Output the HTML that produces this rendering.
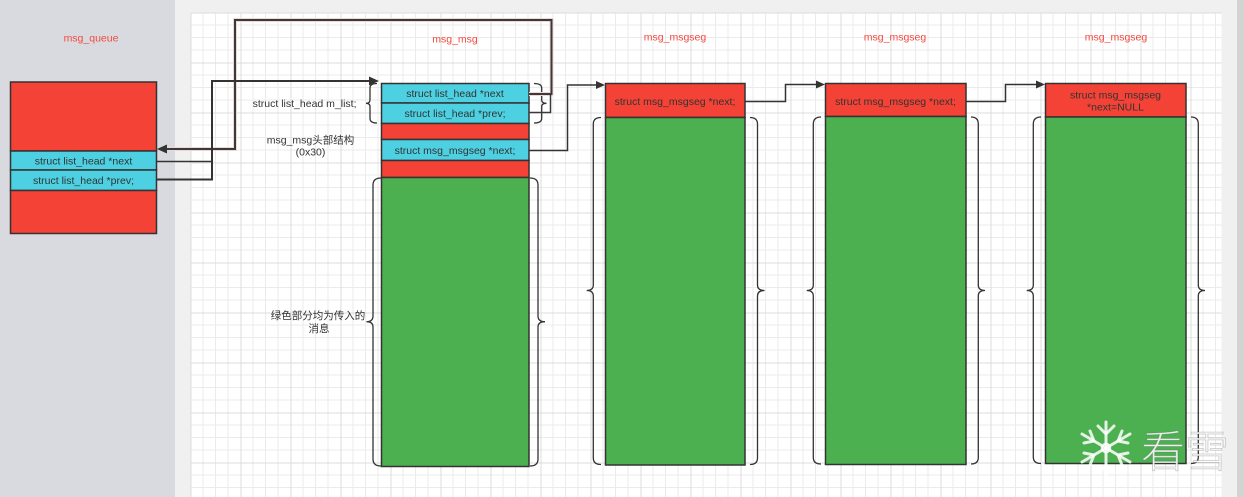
<!DOCTYPE html>
<html><head><meta charset="utf-8"><style>
html,body{margin:0;padding:0;background:#f0f0f0;}
svg{display:block;}
text{font-family:"Liberation Sans","Noto Sans CJK SC",sans-serif;font-size:10.5px;fill:#333;}
.r{fill:#f4493f;}
</style></head><body>
<svg width="1244" height="497" viewBox="0 0 1244 497" xmlns="http://www.w3.org/2000/svg">
<defs>
<pattern id="g" patternUnits="userSpaceOnUse" x="190.5" y="12.5" width="50" height="50">
<rect width="50" height="50" fill="#fff"/>
<path d="M12.5 0V50M25 0V50M37.5 0V50M0 12.5H50M0 25H50M0 37.5H50" stroke="#ebebeb" stroke-width="1"/>
<path d="M0.5 0V50M0 0.5H50" stroke="#dcdcdc" stroke-width="1"/>
</pattern>
</defs>
<rect width="1244" height="497" fill="#f0f0f0"/>
<rect x="0" y="0" width="175" height="497" fill="#d9dadf"/>
<rect x="190.5" y="12.5" width="1031" height="485" fill="url(#g)"/>
<rect x="1237" y="0" width="7" height="497" fill="#d3d3d3"/>

<!-- red labels -->
<text class="r" x="91" y="41.5" text-anchor="middle">msg_queue</text>
<text class="r" x="455" y="42.5" text-anchor="middle">msg_msg</text>
<text class="r" x="675" y="40.5" text-anchor="middle">msg_msgseg</text>
<text class="r" x="895" y="40.5" text-anchor="middle">msg_msgseg</text>
<text class="r" x="1116" y="40.5" text-anchor="middle">msg_msgseg</text>

<g stroke="#333" stroke-width="1.5">
<!-- msg_queue -->
<rect x="10.5" y="82" width="146" height="69" fill="#f44336"/>
<rect x="10.5" y="151" width="146" height="19" fill="#4dd0e1"/>
<rect x="10.5" y="170" width="146" height="20.5" fill="#4dd0e1"/>
<rect x="10.5" y="190.5" width="146" height="43" fill="#f44336"/>
<!-- msg_msg -->
<rect x="381.5" y="83.5" width="147.5" height="19.5" fill="#4dd0e1"/>
<rect x="381.5" y="103" width="147.5" height="20.5" fill="#4dd0e1"/>
<rect x="381.5" y="123.5" width="147.5" height="16" fill="#f44336"/>
<rect x="381.5" y="139.5" width="147.5" height="21" fill="#4dd0e1"/>
<rect x="381.5" y="160.5" width="147.5" height="17" fill="#f44336"/>
<rect x="381.5" y="177.5" width="147.5" height="289" fill="#4caf50"/>
<!-- msgseg boxes -->
<rect x="605.5" y="83.5" width="139.5" height="34" fill="#f44336"/>
<rect x="605.5" y="117.5" width="139.5" height="347.5" fill="#4caf50"/>
<rect x="825.5" y="83.5" width="140.5" height="33" fill="#f44336"/>
<rect x="825.5" y="116.5" width="140.5" height="348" fill="#4caf50"/>
<rect x="1045.5" y="83.5" width="140.5" height="33.5" fill="#f44336"/>
<rect x="1045.5" y="117" width="140.5" height="346.5" fill="#4caf50"/>
</g>

<!-- box texts -->
<text x="83.5" y="164.5" text-anchor="middle">struct list_head *next</text>
<text x="83.5" y="184" text-anchor="middle">struct list_head *prev;</text>
<text x="455" y="97" text-anchor="middle">struct list_head *next</text>
<text x="455" y="117" text-anchor="middle">struct list_head *prev;</text>
<text x="455" y="154" text-anchor="middle">struct msg_msgseg *next;</text>
<text x="675" y="105" text-anchor="middle">struct msg_msgseg *next;</text>
<text x="895.5" y="105" text-anchor="middle">struct msg_msgseg *next;</text>
<text x="1115.5" y="98.5" text-anchor="middle">struct msg_msgseg</text>
<text x="1115.5" y="110.5" text-anchor="middle">*next=NULL</text>

<!-- side labels -->
<text x="356.5" y="107" text-anchor="end">struct list_head m_list;</text>
<text x="310.5" y="143.5" text-anchor="middle">msg_msg头部结构</text>
<text x="310.5" y="155.5" text-anchor="middle">(0x30)</text>
<text x="318" y="319" text-anchor="middle">绿色部分均为传入的</text>
<text x="319" y="332" text-anchor="middle">消息</text>

<!-- brackets -->
<g fill="none" stroke="#333" stroke-width="1.3">
<!-- m_list -->
<path d="M377 83.5 Q370 83.5 370 88 L370 100 Q370 103.3 366 103.3 Q370 103.3 370 106.5 L370 118.5 Q370 123 377 123"/>
<path d="M534 83.5 Q541.7 83.5 541.7 88 L541.7 100 Q541.7 103.3 546.5 103.3 Q541.7 103.3 541.7 106.5 L541.7 118.5 Q541.7 123 534 123"/>
<!-- msg_msg green -->
<path d="M381 178 Q373 178 373 185 L373 316 Q373 321.7 366.5 321.7 Q373 321.7 373 327 L373 459 Q373 466 381 466"/>
<path d="M530 178 Q538 178 538 185 L538 316 Q538 321.7 545 321.7 Q538 321.7 538 327 L538 459 Q538 466 530 466"/>
<!-- seg1 -->
<path d="M601 117.5 Q593.3 117.5 593.3 124 L593.3 285 Q593.3 290.5 586.7 290.5 Q593.3 290.5 593.3 296 L593.3 458 Q593.3 464.5 601 464.5"/>
<path d="M750 117.5 Q757.5 117.5 757.5 124 L757.5 285 Q757.5 290.5 764.5 290.5 Q757.5 290.5 757.5 296 L757.5 458 Q757.5 464.5 750 464.5"/>
<!-- seg2 -->
<path d="M821 117 Q813.3 117 813.3 124 L813.3 285 Q813.3 290.5 806.7 290.5 Q813.3 290.5 813.3 296 L813.3 457.5 Q813.3 464 821 464"/>
<path d="M971 117 Q978.3 117 978.3 124 L978.3 285 Q978.3 290.5 985 290.5 Q978.3 290.5 978.3 296 L978.3 457.5 Q978.3 464 971 464"/>
<!-- seg3 -->
<path d="M1041 117 Q1033.3 117 1033.3 124 L1033.3 285 Q1033.3 290.5 1026.7 290.5 Q1033.3 290.5 1033.3 296 L1033.3 457 Q1033.3 463.5 1041 463.5"/>
<path d="M1191 117 Q1198.3 117 1198.3 124 L1198.3 285 Q1198.3 290.5 1205 290.5 Q1198.3 290.5 1198.3 296 L1198.3 457 Q1198.3 463.5 1191 463.5"/>
</g>

<!-- connectors -->
<g fill="none" stroke-linejoin="miter">
<!-- loop halo -->
<polyline points="529,94 551.5,94 551.5,20 235,20 235,149 166,149" stroke="#f0d6d6" stroke-width="4"/>
<polyline points="529,94 551.5,94 551.5,20 235,20 235,149 166,149" stroke="#3a3a3a" stroke-width="2"/>
<polyline points="529,112.5 550.5,112.5 550.5,94" stroke="#3a3a3a" stroke-width="1.5"/>
<!-- queue to msg -->
<polyline points="157,161.5 212,161.5" stroke="#333" stroke-width="1.5"/>
<polyline points="157,179.5 212,179.5 212,81 371,81" stroke="#333" stroke-width="2"/>
<!-- msg to seg1 -->
<polyline points="529,150.5 567.5,150.5 567.5,85 598,85" stroke="#333" stroke-width="1.5"/>
<polyline points="745,101.5 785.5,101.5 785.5,84.5 818,84.5" stroke="#333" stroke-width="1.5"/>
<polyline points="966,101.5 1005.5,101.5 1005.5,84.5 1038,84.5" stroke="#333" stroke-width="1.5"/>
</g>
<g fill="#333">
<polygon points="157,149 167,144.5 167,153.5"/>
<polygon points="379,81 369,76.5 369,85.5"/>
<polygon points="605,85 596,81 596,89"/>
<polygon points="825,84.5 816,80.5 816,88.5"/>
<polygon points="1045,84.5 1036,80.5 1036,88.5"/>
</g>

<!-- watermark -->
<g stroke="rgba(255,255,255,0.85)" stroke-width="3" stroke-linecap="round" fill="none">
<line x1="1106" y1="422" x2="1106" y2="477"/>
<line x1="1082" y1="434" x2="1130" y2="462"/>
<line x1="1082" y1="462" x2="1130" y2="434"/>
<path d="M1098 426 L1106 434 L1114 426 M1098 473 L1106 465 L1114 473 M1084 443 L1094 441 L1090 431 M1128 453 L1118 455 L1122 465 M1084 453 L1094 455 L1090 465 M1128 443 L1118 441 L1122 431"/>
</g>
<circle cx="1106" cy="448" r="4" fill="none" stroke="rgba(255,255,255,0.85)" stroke-width="2.5"/>
<text x="1141" y="467" style="font-family:'Noto Sans CJK SC','WenQuanYi Zen Hei',sans-serif;font-size:44px;font-weight:300;fill:rgba(255,255,255,0.88);stroke:rgba(90,90,90,0.35);stroke-width:0.8">看雪</text>
</svg>
</body></html>
